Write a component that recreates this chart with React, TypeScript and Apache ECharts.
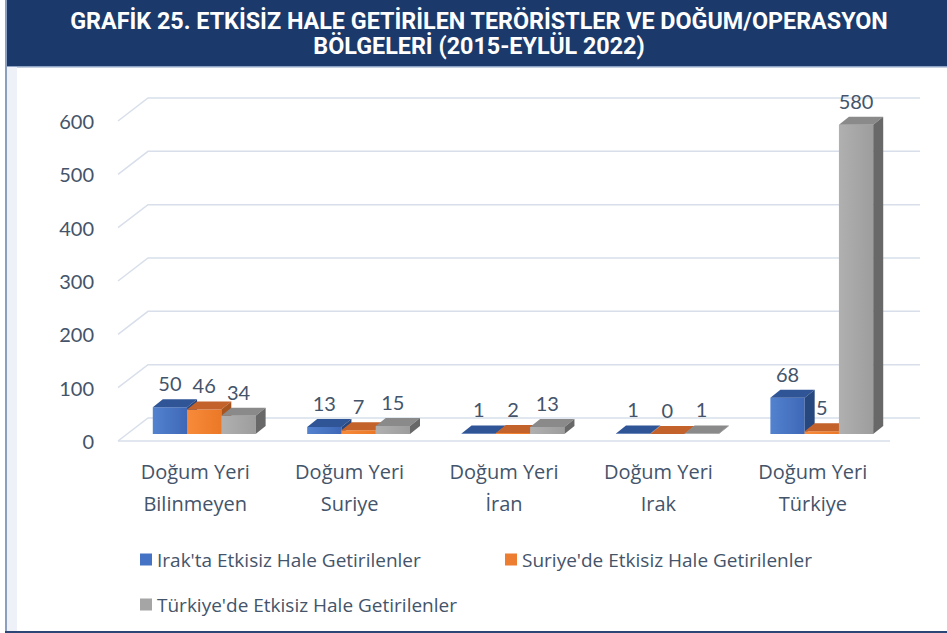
import React, { useEffect, useRef } from 'react';
import * as echarts from 'echarts';

const categories = [
  'Doğum Yeri\nBilinmeyen',
  'Doğum Yeri\nSuriye',
  'Doğum Yeri\nİran',
  'Doğum Yeri\nIrak',
  'Doğum Yeri\nTürkiye',
];
const seriesNames = [
  "Irak'ta Etkisiz Hale Getirilenler",
  "Suriye'de Etkisiz Hale Getirilenler",
  "Türkiye'de Etkisiz Hale Getirilenler",
];
const irakValues = [50, 13, 1, 1, 68];
const suriyeValues = [46, 7, 2, 0, 5];
const turkiyeValues = [34, 15, 13, 1, 580];
const yTicks = [0, 100, 200, 300, 400, 500, 600];

const titleLine1 = 'GRAFİK 25. ETKİSİZ HALE GETİRİLEN TERÖRİSTLER VE DOĞUM/OPERASYON';
const titleLine2 = 'BÖLGELERİ (2015-EYLÜL 2022)';

const palette = [
  { front: ['#5382cf', '#3e68b7'], top: '#2f5597', side: '#27477f', legend: '#4472c4' },
  { front: ['#f78b3b', '#eb7826'], top: '#c4622b', side: '#a8541e', legend: '#ed7d31' },
  { front: ['#b0b0b0', '#9d9d9d'], top: '#8a8a8a', side: '#686868', legend: '#a5a5a5' },
];

const TEXT = '#44546a';
const GRID_COLOR = '#d8dfea';
const DEPTH_DX = 30;
const DEPTH_DY = -23;
const BAR_OFF_X = 9;
const BAR_OFF_Y = -7;
const BAR_DX = 10;
const BAR_DY = -8;

const makeBarRender = (s: number) => (params: any, api: any) => {
  const ci = api.value(0);
  const v = api.value(1);
  const base = api.coord([ci, 0]);
  const top = api.coord([ci, v]);
  const band = api.size([1, 0])[0];
  const w = band * 0.222;
  const cx = base[0] + BAR_OFF_X;
  const x0 = cx - 1.5 * w + s * w;
  const x1 = x0 + w;
  const yb = base[1] + BAR_OFF_Y;
  const yt = top[1] + BAR_OFF_Y;
  const p = palette[s];
  return {
    type: 'group',
    children: [
      {
        type: 'rect',
        shape: { x: x0, y: yt, width: w, height: yb - yt },
        style: {
          fill: {
            type: 'linear', x: 0, y: 0, x2: 1, y2: 0,
            colorStops: [
              { offset: 0, color: p.front[0] },
              { offset: 1, color: p.front[1] },
            ],
          },
        },
      },
      {
        type: 'polygon',
        shape: { points: [[x0, yt], [x0 + BAR_DX, yt + BAR_DY], [x1 + BAR_DX, yt + BAR_DY], [x1, yt]] },
        style: { fill: p.top },
      },
      {
        type: 'polygon',
        shape: { points: [[x1, yt], [x1 + BAR_DX, yt + BAR_DY], [x1 + BAR_DX, yb + BAR_DY], [x1, yb]] },
        style: { fill: p.side },
      },
      {
        type: 'text',
        style: {
          text: String(v),
          x: x0 + w / 2,
          y: yt + BAR_DY - 6,
          align: 'center',
          verticalAlign: 'bottom',
          fill: TEXT,
          fontSize: 20,
          fontFamily: 'Lato',
        },
      },
    ],
  };
};

const renderGrid = (params: any, api: any) => {
  const v = api.value(1);
  const cs = params.coordSys;
  const y = api.coord([0, v])[1];
  const xL = cs.x;
  const xR = cs.x + cs.width;
  const children: any[] = [
    {
      type: 'polyline',
      shape: { points: [[xL, y], [xL + DEPTH_DX, y + DEPTH_DY], [xR + DEPTH_DX, y + DEPTH_DY]] },
      style: { stroke: GRID_COLOR, lineWidth: 1.5, fill: 'none' },
    },
  ];
  if (v === 0) {
    children.push({
      type: 'line',
      shape: { x1: xL, y1: y, x2: xR, y2: y },
      style: { stroke: GRID_COLOR, lineWidth: 1.5 },
    });
  }
  return { type: 'group', children };
};

const legendBase = {
  icon: 'rect',
  itemWidth: 12,
  itemHeight: 12,
  padding: 0,
  selectedMode: false,
  textStyle: { color: TEXT, fontSize: 19, fontFamily: 'Open Sans' },
};

export default function App() {
  const ref = useRef<HTMLDivElement>(null);
  useEffect(() => {
    if (!ref.current) return;
    const chart = echarts.init(ref.current, null, { renderer: 'svg' });
    const valueSets = [irakValues, suriyeValues, turkiyeValues];
    chart.setOption({
      animation: false,
      backgroundColor: '#ffffff',
      grid: { left: 118, top: 121, width: 772, height: 320, outerBoundsMode: 'none' },
      xAxis: {
        type: 'category',
        data: categories,
        axisLine: { show: false },
        axisTick: { show: false },
        splitLine: { show: false },
        axisLabel: {
          color: TEXT,
          fontSize: 20,
          fontFamily: 'Open Sans',
          lineHeight: 32,
          margin: 14,
          interval: 0,
        },
      },
      yAxis: {
        type: 'value',
        min: 0,
        max: 600,
        interval: 100,
        axisLine: { show: false },
        axisTick: { show: false },
        splitLine: { show: false },
        axisLabel: { color: TEXT, fontSize: 20, fontFamily: 'Lato', margin: 24 },
      },
      legend: [
        { ...legendBase, data: [seriesNames[0]], left: 140, top: 550 },
        { ...legendBase, data: [seriesNames[1]], left: 505, top: 550 },
        { ...legendBase, data: [seriesNames[2]], left: 140, top: 595 },
      ],
      graphic: [
        { type: 'rect', shape: { x: 5, y: 0, width: 942, height: 66 }, style: { fill: '#1b3a6b' } },
        { type: 'rect', shape: { x: 5, y: 66, width: 942, height: 1.5 }, style: { fill: '#8ea2c4' } },
        { type: 'rect', shape: { x: 5, y: 0, width: 2, height: 633 }, style: { fill: '#8c9fc0' } },
        { type: 'rect', shape: { x: 7, y: 67, width: 10, height: 564 }, style: { fill: '#eef1f7' } },
        { type: 'rect', shape: { x: 5, y: 631, width: 942, height: 2 }, style: { fill: '#2c4775' } },
        {
          type: 'text', x: 479, y: 22, scaleX: 1.015,
          style: {
            text: titleLine1, x: 0, y: 0, align: 'center', verticalAlign: 'middle',
            fill: '#ffffff', fontSize: 23, fontWeight: 'bold', fontFamily: 'Roboto',
          },
        },
        {
          type: 'text', x: 479, y: 47, scaleX: 1.015,
          style: {
            text: titleLine2, x: 0, y: 0, align: 'center', verticalAlign: 'middle',
            fill: '#ffffff', fontSize: 23, fontWeight: 'bold', fontFamily: 'Roboto',
          },
        },
      ],
      series: [
        {
          name: 'grid',
          type: 'custom',
          renderItem: renderGrid,
          data: yTicks.map((t) => [0, t]),
          encode: { x: 0, y: 1 },
          silent: true,
          z: 1,
        },
        ...valueSets.map((vals, s) => ({
          name: seriesNames[s],
          type: 'custom',
          renderItem: makeBarRender(s),
          data: vals.map((v, i) => [i, v]),
          encode: { x: 0, y: 1 },
          itemStyle: { color: palette[s].legend },
          z: 2,
        })),
      ],
    });
    return () => chart.dispose();
  }, []);
  return (
    <div
      ref={ref}
      style={{ position: 'fixed', left: 0, top: 0, width: 947, height: 633, background: '#fff' }}
    />
  );
}
